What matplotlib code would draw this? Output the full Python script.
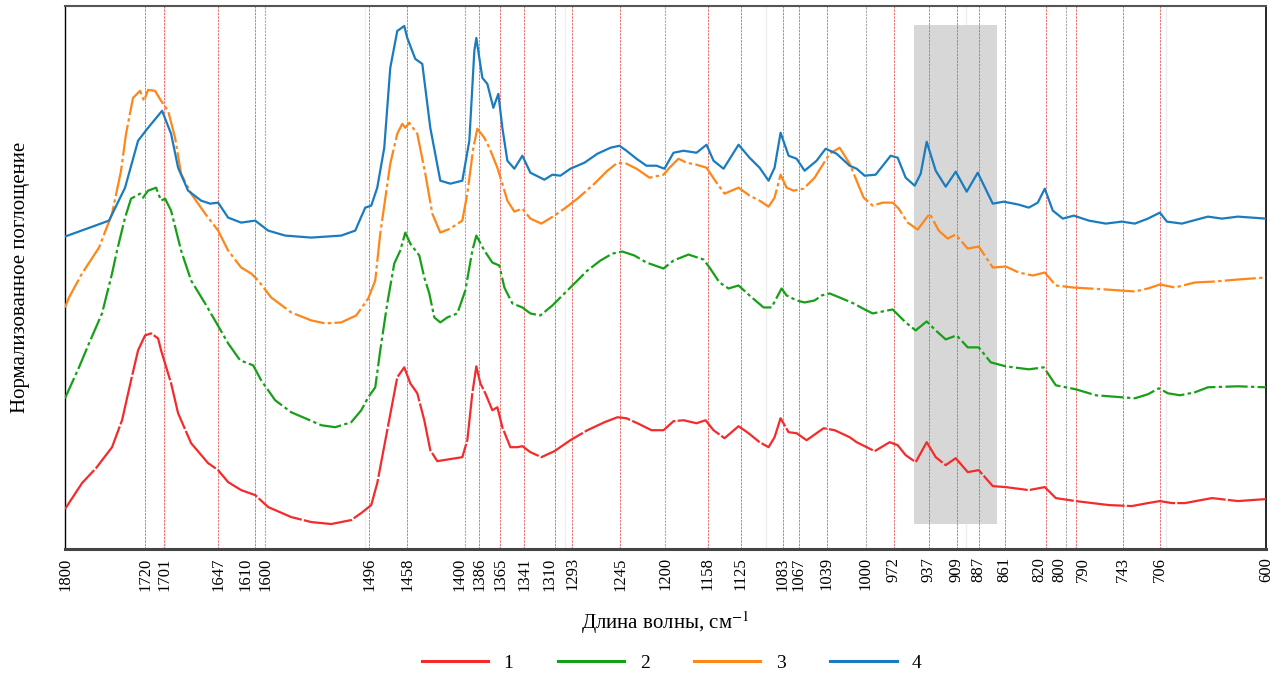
import matplotlib
matplotlib.use("Agg")
import matplotlib.pyplot as plt
import matplotlib.transforms as mtransforms
from matplotlib.lines import Line2D

plt.rcParams['font.family'] = ['Liberation Serif', 'DejaVu Serif']
plt.rcParams['mathtext.fontset'] = 'stix'

# --- spectra (wavenumber, cm-1 / relative absorbance incl. offset) ---
wn_1 = [1800, 1783, 1769, 1753, 1743, 1734, 1727, 1720, 1714, 1707, 1704, 1694, 1687, 1674,
        1657, 1647, 1637, 1624, 1610, 1597, 1574, 1554, 1534, 1514, 1504, 1494, 1488, 1478,
        1468, 1461, 1455, 1448, 1441, 1435, 1428, 1403, 1398, 1393, 1389, 1385, 1380, 1373,
        1368, 1363, 1355, 1348, 1343, 1335, 1324, 1311, 1295, 1278, 1261, 1248, 1239, 1226,
        1214, 1202, 1192, 1182, 1169, 1160, 1152, 1141, 1127, 1117, 1106, 1097, 1091, 1085,
        1077, 1069, 1059, 1042, 1031, 1016, 1009, 991, 976, 968, 960, 950, 939, 930, 920,
        910, 898, 887, 873, 860, 837, 821, 810, 790, 757, 734, 718, 706, 694, 681, 654, 628, 600]
ab_1 = [40, 66, 81, 102, 129, 169, 199, 214, 216, 211, 199, 166, 136, 106,
        86, 79, 67, 59, 54, 42, 32, 27, 25, 29, 36, 44, 66, 119,
        172, 182, 166, 156, 129, 99, 88, 92, 109, 156, 183, 166, 156, 139,
        142, 122, 102, 102, 103, 97, 92, 98, 109, 119, 127, 132, 131, 125,
        119, 119, 128, 129, 126, 129, 119, 111, 123, 116, 107, 102, 112, 131,
        117, 116, 109, 121, 119, 112, 107, 98, 107, 104, 94, 87, 107, 92, 84,
        91, 77, 79, 63, 62, 59, 62, 51, 48, 44, 43, 46, 48, 46, 46, 51, 48, 50]

wn_2 = [1800, 1786, 1776, 1763, 1753, 1748, 1740, 1734, 1725, 1722, 1717, 1709, 1704, 1700,
        1694, 1684, 1674, 1660, 1649, 1637, 1625, 1612, 1604, 1590, 1574, 1560, 1544, 1530,
        1514, 1504, 1497, 1490, 1485, 1478, 1471, 1465, 1460, 1455, 1446, 1441, 1436, 1431,
        1425, 1418, 1408, 1400, 1393, 1389, 1381, 1373, 1366, 1361, 1353, 1343, 1335, 1325,
        1313, 1296, 1278, 1265, 1253, 1243, 1231, 1219, 1202, 1192, 1177, 1162, 1156, 1146,
        1137, 1127, 1116, 1102, 1094, 1084, 1079, 1069, 1061, 1051, 1044, 1036, 1026, 1012,
        1001, 993, 973, 960, 950, 939, 930, 920, 909, 898, 887, 875, 860, 837, 822, 810,
        790, 770, 744, 731, 718, 707, 698, 686, 671, 658, 628, 600]
ab_2 = [151, 182, 206, 236, 276, 299, 332, 351, 356, 352, 359, 362, 349, 351,
        339, 299, 269, 246, 227, 206, 189, 184, 169, 149, 137, 131, 124, 122,
        127, 139, 152, 162, 199, 246, 286, 299, 317, 306, 294, 272, 256, 232,
        227, 232, 236, 259, 299, 314, 299, 287, 284, 262, 246, 242, 236, 234,
        244, 261, 279, 289, 296, 298, 294, 287, 281, 289, 295, 290, 282, 267,
        261, 264, 254, 242, 242, 261, 254, 249, 247, 249, 254, 256, 252, 246,
        240, 236, 240, 227, 219, 228, 219, 210, 214, 202, 202, 187, 183, 180, 182, 164,
        160, 154, 152, 151, 155, 161, 156, 154, 157, 162, 163, 162]

wn_3 = [1800, 1796, 1783, 1766, 1753, 1744, 1739, 1732, 1725, 1721, 1717, 1710, 1704, 1697,
        1690, 1684, 1674, 1660, 1647, 1637, 1624, 1614, 1607, 1594, 1574, 1554, 1540, 1524,
        1509, 1497, 1490, 1485, 1475, 1468, 1463, 1460, 1456, 1448, 1440, 1433, 1425, 1415,
        1403, 1398, 1392, 1388, 1381, 1376, 1368, 1363, 1358, 1351, 1343, 1335, 1324, 1311,
        1301, 1288, 1271, 1258, 1248, 1239, 1229, 1216, 1202, 1196, 1187, 1179, 1169, 1159,
        1149, 1141, 1127, 1116, 1106, 1097, 1091, 1085, 1079, 1072, 1062, 1051, 1036, 1026,
        1016, 1007, 1002, 993, 983, 973, 967, 958, 948, 936, 927, 918, 910, 898, 887, 873,
        860, 847, 833, 821, 810, 793, 760, 731, 718, 706, 691, 671, 651, 628, 600]
ab_3 = [242, 252, 276, 302, 336, 379, 416, 452, 459, 449, 460, 459, 449, 439,
        412, 376, 356, 336, 319, 299, 282, 276, 269, 252, 237, 229, 226, 227,
        234, 251, 269, 316, 386, 416, 426, 422, 427, 416, 376, 336, 317, 321,
        329, 356, 402, 421, 412, 402, 382, 366, 349, 338, 341, 331, 326, 334,
        341, 351, 366, 379, 387, 386, 381, 372, 375, 382, 391, 387, 385, 382,
        367, 356, 362, 354, 349, 343, 352, 375, 362, 359, 361, 372, 396, 402,
        386, 364, 352, 344, 347, 347, 341, 327, 320, 336, 319, 311, 315, 301, 303, 282,
        283, 277, 274, 277, 264, 262, 260, 258, 261, 265, 262, 267, 268, 270, 272]

wn_4 = [1800, 1756, 1740, 1727, 1717, 1703, 1694, 1687, 1677, 1664, 1655, 1647, 1637, 1624,
        1610, 1597, 1580, 1554, 1524, 1510, 1500, 1494, 1488, 1481, 1475, 1468, 1461, 1458,
        1450, 1443, 1435, 1425, 1415, 1403, 1396, 1391, 1389, 1383, 1378, 1372, 1367, 1363,
        1358, 1351, 1343, 1335, 1321, 1313, 1305, 1295, 1281, 1268, 1255, 1246, 1239, 1229,
        1219, 1209, 1201, 1192, 1182, 1169, 1159, 1152, 1142, 1127, 1116, 1106, 1097, 1091,
        1085, 1077, 1069, 1061, 1049, 1040, 1029, 1016, 1009, 1001, 990, 975, 968, 960,
        951, 945, 939, 930, 920, 910, 899, 888, 873, 862, 847, 837, 828, 821, 813, 803,
        792, 777, 760, 744, 731, 718, 706, 699, 684, 658, 644, 628, 600]
ab_4 = [313, 329, 362, 409, 422, 439, 416, 382, 359, 349, 346, 347, 332, 327,
        329, 319, 314, 312, 314, 319, 342, 344, 362, 402, 482, 519, 524, 512,
        491, 486, 422, 369, 366, 369, 409, 499, 512, 472, 466, 442, 456, 422,
        389, 381, 394, 377, 370, 375, 374, 381, 387, 396, 402, 404, 399, 391,
        384, 384, 381, 397, 399, 397, 405, 389, 381, 405, 392, 382, 369, 382,
        417, 394, 391, 379, 389, 401, 396, 384, 381, 374, 375, 394, 392, 372,
        364, 376, 408, 379, 363, 378, 358, 377, 346, 348, 345, 342, 347, 361, 339, 331,
        334, 329, 326, 328, 326, 331, 337, 328, 326, 333, 331, 333, 331]

series_labels = ['1', '2', '3', '4']

# labelled band positions, cm-1
band_ticks = [1800, 1720, 1701, 1647, 1610, 1600, 1496, 1458, 1400, 1386, 1365, 1341, 1310,
              1293, 1245, 1200, 1158, 1125, 1083, 1067, 1039, 1000, 972, 937, 909, 887,
              861, 820, 800, 790, 743, 706, 600]
grid_major = [1600, 1400, 1200, 1000, 800]
grid_minor = [1700, 1500, 1300, 1100, 900, 700]
highlight = (952, 869)
highlight_y = (25, 525)

# sideways nudge (px) of crowded tick labels, as in the reference
label_nudge = {'1610': -10, '1400': -6, '1310': -6, '820': -6, '800': -6, '790': 7}

colors = ['#f52a2a', '#17a017', '#ff8618', '#1a7cbf']
styles = [(0, (22, 1)), (0, (10, 1.5, 1.5, 1.5)), (0, (14, 1.5, 1.5, 1.5)), '-']

fig = plt.figure(figsize=(12.82, 6.83), dpi=100)
ax = fig.add_axes([0.0507, 0.1962, 0.9368, 0.7950])

ax.fill_between(highlight, highlight_y[0], highlight_y[1], color='#d7d7d7', lw=0, zorder=1)

for g in grid_minor:
    ax.axvline(g, color='#eeeeee', lw=1.0, zorder=0)
for g in grid_major:
    ax.axvline(g, color='#aaaaaa', lw=0.8, ls=(0, (2, 1)), zorder=2)
for b in band_ticks[1:-1]:
    if b in grid_major:
        continue
    ax.axvline(b, color='#e65a5a', lw=0.7, ls=(0, (2.5, 1)), alpha=0.85, zorder=2)

series = [(wn_1, ab_1), (wn_2, ab_2), (wn_3, ab_3), (wn_4, ab_4)]
for (wn, ab), c, ls in zip(series, colors, styles):
    ax.plot(wn, ab, color=c, lw=1.6, ls=ls, zorder=3)

ax.set_xlim(1800, 600)
ax.set_ylim(0, 544)
ax.set_yticks([])
ax.set_xticks(band_ticks)
ax.set_xticklabels([str(t) for t in band_ticks], rotation=90, fontsize=12)
ax.tick_params(axis='x', length=0, pad=6)
for lab in ax.get_xticklabels():
    dx = label_nudge.get(lab.get_text(), 0)
    if dx:
        lab.set_transform(lab.get_transform() +
                          mtransforms.ScaledTranslation(dx / 100, 0, fig.dpi_scale_trans))

ax.spines['bottom'].set_linewidth(2.2)
ax.spines['bottom'].set_color('#444444')
ax.spines['top'].set_linewidth(1.5)
ax.spines['top'].set_color('#555555')
ax.spines['left'].set_linewidth(1.0)
ax.spines['right'].set_linewidth(1.2)

ax.set_xlabel('Длина волны, см$^{-1}$', fontsize=15, labelpad=13)
ax.set_ylabel('Нормализованное поглощение', fontsize=15, labelpad=25)

handles = [Line2D([], [], color=c, lw=2.2) for c in colors]
fig.legend(handles, series_labels, loc='center', bbox_to_anchor=(0.524, 0.029), ncol=4,
           frameon=False, fontsize=14, handlelength=3.4, handletextpad=0.8, columnspacing=2.3)

fig.savefig('out.png', dpi=100)
